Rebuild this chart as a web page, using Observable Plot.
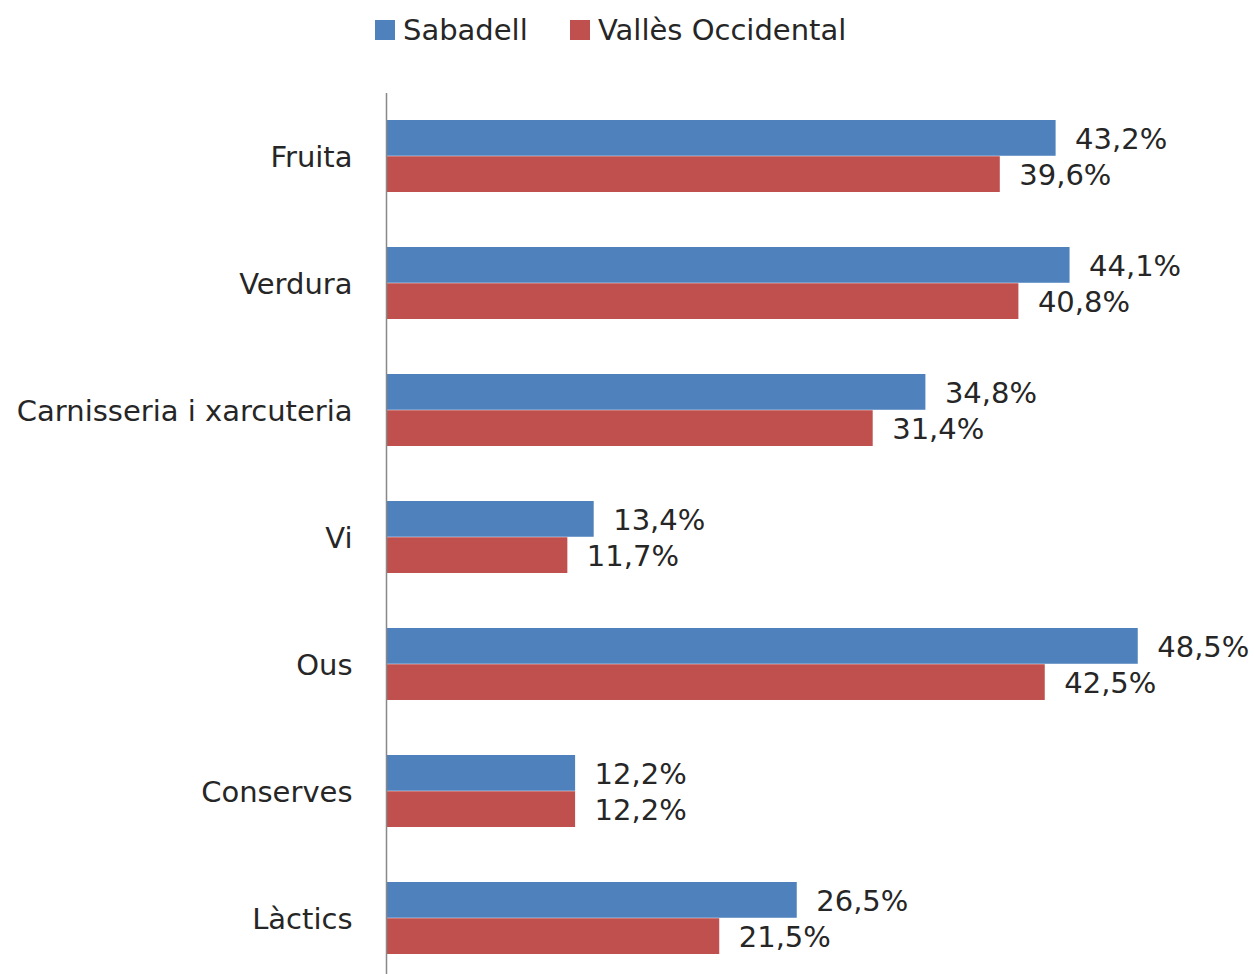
<!DOCTYPE html>
<html>
<head>
<meta charset="utf-8">
<script src="https://cdn.jsdelivr.net/npm/d3@7"></script>
<script src="https://cdn.jsdelivr.net/npm/@observablehq/plot@0.6"></script>
<style>
  html, body { margin: 0; padding: 0; background: #fff; overflow: hidden; }
  body { width: 1254px; height: 974px; font-family: "DejaVu Sans", sans-serif; color: #262626; }
  #legend { position: relative; height: 60px; }
  .item { position: absolute; top: 11px; display: flex; align-items: center; font-size: 29px; line-height: 38px; }
  .sw { width: 20px; height: 20px; margin-right: 8px; }
</style>
</head>
<body>
<div id="legend"></div>
<div id="chart"></div>
<script>
const categories = ["Fruita", "Verdura", "Carnisseria i xarcuteria", "Vi", "Ous", "Conserves", "Làctics"];
const series = ["Sabadell", "Vallès Occidental"];
const sabadell = [43.2, 44.1, 34.8, 13.4, 48.5, 12.2, 26.5];
const valles = [39.6, 40.8, 31.4, 11.7, 42.5, 12.2, 21.5];
const colors = ["#4F81BD", "#C0504D"];

const fmt = v => v.toFixed(1).replace(".", ",") + "%";

const dataS = categories.map((c, i) => ({category: c, series: series[0], value: sabadell[i]}));
const dataV = categories.map((c, i) => ({category: c, series: series[1], value: valles[i]}));

// legend
const legend = document.getElementById("legend");
const lefts = [375, 570];
series.forEach((s, i) => {
  const d = document.createElement("div");
  d.className = "item";
  d.style.left = lefts[i] + "px";
  const sw = document.createElement("span");
  sw.className = "sw";
  sw.style.background = colors[i];
  d.appendChild(sw);
  d.appendChild(document.createTextNode(s));
  legend.appendChild(d);
});

const height = 914;
const top0 = 32, bottom0 = 922;
const pin = 0.43, pout = 0.215;
const step = (bottom0 - top0) / (categories.length - pin + 2 * pout);
const bw = step * (1 - pin);
const half = bw / 2;

const chart = Plot.plot({
  width: 1254,
  height,
  marginLeft: 386,
  marginRight: 0,
  marginTop: 33,
  marginBottom: 0,
  style: {fontFamily: "DejaVu Sans, sans-serif", fontSize: "29px", color: "#262626", background: "#fff"},
  x: {domain: [0, 56], axis: null},
  y: {domain: categories, range: [top0, bottom0], paddingInner: pin, paddingOuter: pout, label: null, tickSize: 0, tickPadding: 34},
  marks: [
    Plot.barX(dataS, {x: "value", y: "category", fill: colors[0], insetBottom: half}),
    Plot.barX(dataV, {x: "value", y: "category", fill: colors[1], insetTop: half}),
    Plot.text(dataS, {x: "value", y: "category", text: d => fmt(d.value), dy: -half / 2 + 1, dx: 19, textAnchor: "start", fill: "#262626", fontSize: 29}),
    Plot.text(dataV, {x: "value", y: "category", text: d => fmt(d.value), dy: half / 2 + 1, dx: 19, textAnchor: "start", fill: "#262626", fontSize: 29}),
    Plot.ruleX([0], {stroke: "#888", strokeWidth: 1.5}),
    Plot.axisY({tickSize: 0, tickPadding: 34, fontSize: 29, fill: "#262626", dy: 1})
  ]
});
document.getElementById("chart").appendChild(chart);
</script>
</body>
</html>
